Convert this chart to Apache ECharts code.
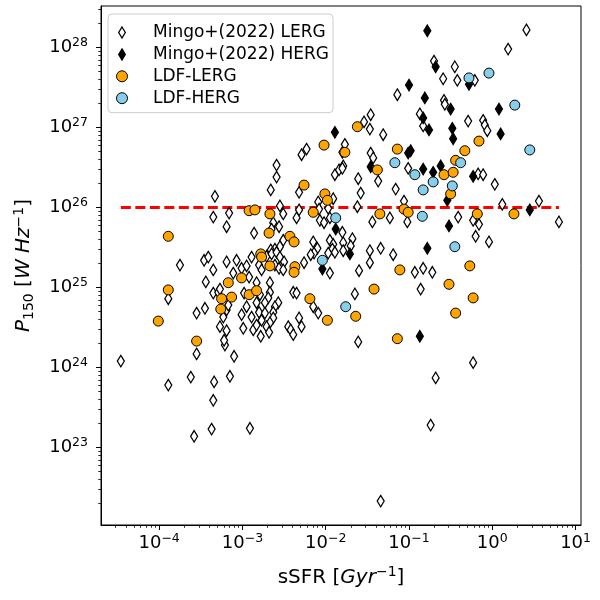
<!DOCTYPE html>
<html>
<head>
<meta charset="utf-8">
<script src="https://cdn.jsdelivr.net/npm/echarts@6/dist/echarts.min.js"></script>
<style>
html, body { margin: 0; padding: 0; background: #ffffff; }
#chart { width: 600px; height: 600px; }
</style>
</head>
<body>
<div id="chart"></div>
<script>
/**
 * data: [log10(sSFR / Gyr^-1), log10(P150 / W Hz^-1)]
 * */
var mingoLerg = [
	[0.41, 28.22], [0.19, 27.98], [-0.70, 27.83], [-0.45, 27.76], [-0.59, 27.61], [-0.42, 27.59], [-0.21, 27.59], [-1.14, 27.41], [-0.58, 27.34], [-0.57, 27.29],
	[-1.46, 27.16], [-1.54, 27.07], [-1.47, 26.98], [-0.87, 27.17], [-0.83, 27.02], [-0.29, 27.08], [-0.11, 27.09], [-0.09, 27.03], [-0.06, 26.96], [-1.31, 26.91],
	[-1.77, 26.79], [-1.80, 26.69], [-2.29, 26.66], [-2.23, 26.73], [-1.89, 26.41], [-1.84, 26.47], [-1.79, 26.52], [-2.59, 26.53], [-2.59, 26.38], [-1.46, 26.68],
	[-1.43, 26.62], [-1.80, 26.49], [-1.01, 26.49], [-0.17, 26.42], [-0.11, 26.41], [-1.61, 26.36], [-1.37, 26.33], [0.03, 26.29],
	[-1.16, 26.23], [-1.58, 26.18], [-1.06, 26.08], [-1.62, 26.01], [-1.44, 25.82], [-1.23, 25.87], [-1.02, 25.82], [-0.41, 25.88], [-0.23, 25.84], [-0.16, 25.79],
	[0.12, 26.04], [0.56, 26.08], [0.80, 25.82], [-0.20, 25.64], [-0.04, 25.57], [-1.79, 25.56], [-1.68, 25.61], [-1.79, 25.46], [-1.70, 25.52], [-1.47, 25.46],
	[-1.34, 25.49], [-1.19, 25.41], [-1.47, 25.31], [-1.60, 25.21], [-0.93, 25.19], [-0.83, 25.24], [-0.72, 25.19], [-0.86, 24.98], [-1.65, 24.92], [-1.61, 24.32],
	[-0.23, 24.06], [-0.68, 23.87], [-0.74, 23.28], [-1.34, 22.33], [-4.46, 24.08], [-3.55, 24.17], [-3.10, 24.14], [-3.89, 23.78], [-3.62, 23.88], [-3.34, 23.82],
	[-3.15, 23.89], [-3.35, 23.59], [-3.58, 23.14], [-3.37, 23.23], [-2.91, 23.24], [-3.21, 24.28],
	[-2.32, 26.19], [-2.66, 26.22], [-3.33, 26.14], [-2.09, 26.07], [-1.91, 26.11], [-3.35, 25.88], [-3.16, 25.93], [-3.19, 25.76], [-2.55, 26.02], [-2.51, 25.92],
	[-2.35, 25.87], [-2.32, 25.97], [-2.07, 25.84], [-2.02, 25.81], [-1.97, 25.99], [-1.95, 25.87], [-2.86, 25.68], [-3.75, 25.28], [-3.89, 24.86], [-3.55, 24.68],
	[-3.45, 24.74], [-3.46, 25.34], [-3.41, 25.38], [-3.35, 25.22], [-3.44, 25.07], [-3.19, 25.32], [-3.07, 25.34], [-3.11, 25.18], [-3.01, 25.24], [-2.95, 25.27],
	[-2.89, 25.38], [-2.92, 25.13], [-2.83, 25.06], [-3.35, 24.93], [-3.29, 24.94], [-3.27, 24.98], [-2.98, 24.93], [-3.19, 24.72], [-3.17, 24.78], [-3.23, 24.63],
	[-3.27, 24.51], [-3.19, 24.46], [-3.22, 24.34], [-3.01, 24.66], [-2.99, 24.49], [-2.95, 24.76], [-2.89, 24.63], [-2.87, 24.47], [-2.83, 24.53], [-2.83, 24.81],
	[-2.79, 24.91], [-2.80, 24.69], [-2.77, 24.59], [-2.78, 24.39], [-2.63, 25.81], [-2.65, 25.73], [-2.56, 25.76], [-2.51, 25.59], [-2.55, 25.51], [-2.61, 25.48],
	[-2.66, 25.47], [-2.15, 25.57], [-2.10, 25.49], [-2.14, 25.43], [-1.95, 25.59], [-1.91, 25.54], [-1.92, 25.48], [-1.89, 25.44], [-1.80, 25.69], [-2.71, 25.39],
	[-2.65, 25.42], [-2.59, 25.44], [-2.55, 25.38], [-2.50, 25.32], [-2.61, 25.28], [-2.56, 25.24], [-2.51, 25.22], [-2.26, 25.31], [-2.18, 25.41], [-1.97, 25.43],
	[-1.95, 25.18], [-2.67, 25.06], [-2.67, 24.94], [-2.69, 24.87], [-2.73, 24.81], [-2.39, 24.94], [-2.35, 24.93], [-2.57, 24.81], [-2.61, 24.76], [-2.63, 24.69],
	[-2.63, 24.62], [-2.67, 24.56], [-2.71, 24.51], [-2.68, 24.44], [-2.73, 24.68], [-2.15, 24.76], [-2.09, 24.68], [-2.32, 24.62], [-2.29, 24.51], [-2.45, 24.51],
	[-2.42, 24.47], [-2.39, 24.41], [-2.08, 25.98], [-2.80, 25.28], [-2.77, 25.22]
];
var mingoHerg = [
	[-0.78, 28.21], [-0.68, 27.76], [-0.28, 27.54], [-1.00, 27.53], [-0.81, 27.37], [-0.50, 27.23], [0.08, 27.23], [-0.83, 27.12], [-0.76, 26.97], [-0.48, 26.99],
	[-0.47, 26.86], [0.10, 26.92], [-1.89, 26.94], [-1.01, 26.68], [-0.98, 26.71], [-1.46, 26.51], [-0.83, 26.48], [-0.71, 26.44], [-0.62, 26.52], [-0.23, 26.39],
	[-0.54, 26.09], [-0.52, 25.77], [0.45, 25.97], [-0.78, 25.49], [-1.71, 25.42], [-1.88, 25.73], [-2.04, 25.23], [-0.87, 24.39]
];
var ldfLerg = [
	[-2.02, 26.78], [-1.77, 26.69], [-1.62, 27.01], [-2.26, 26.28], [-1.14, 26.73], [-0.33, 26.71], [-0.16, 26.83], [-1.38, 26.47], [-0.58, 26.41], [-0.47, 26.44],
	[-0.44, 26.59], [-0.50, 26.17], [-1.06, 25.98], [-1.01, 25.94], [-1.35, 25.92], [-0.18, 25.92], [0.26, 25.92], [-2.01, 26.17], [-1.98, 26.09], [-2.15, 25.94],
	[-2.92, 25.96], [-2.85, 25.97], [-2.67, 25.92], [-2.68, 25.68], [-2.43, 25.64], [-2.38, 25.57], [-3.89, 25.64], [-2.78, 25.42], [-2.77, 25.38], [-2.67, 25.27],
	[-2.37, 25.26], [-2.38, 25.19], [-3.17, 25.06], [-3.01, 25.12], [-2.92, 24.91], [-2.83, 24.96], [-3.25, 24.86], [-3.13, 24.88], [-3.26, 24.73], [-3.89, 24.97],
	[-4.01, 24.58], [-3.55, 24.33], [-2.19, 24.86], [-1.98, 24.59], [-1.11, 25.22], [-0.27, 25.27], [-1.42, 24.98], [-0.52, 25.04], [-0.23, 24.87], [-1.64, 24.64],
	[-0.44, 24.68], [-1.14, 24.36]
];
var ldfHerg = [
	[-0.28, 27.62], [-0.04, 27.68], [0.27, 27.28], [0.45, 26.72], [-1.17, 26.56], [-0.93, 26.41], [-0.71, 26.32], [-0.38, 26.56], [-0.48, 26.27], [-0.83, 26.22],
	[-0.84, 25.89], [-0.45, 25.51], [-1.88, 25.87], [-2.04, 25.34], [-1.76, 24.76]
];
var seriesNames = ['Mingo+(2022) LERG', 'Mingo+(2022) HERG', 'LDF-LERG', 'LDF-HERG'];
var xTickExp = [-4, -3, -2, -1, 0, 1];
var yTickExp = [23, 24, 25, 26, 27, 28];
var xLimExp = [-4.698, 1.065];
var yLimExp = [22.031, 28.519];
var pCut = 1e26;

/**
 * helpers
 * */
var diamond = 'path://M3,0L6,5L3,10L0,5Z';
var font = 'DejaVu Sans';

function toLinear(arr) {
	return arr.map(function(p) {
		return [Math.pow(10, p[0]), Math.pow(10, p[1])];
	});
}

//decade ticks
function majors(exps) {
	return exps.map(function(e) { return Math.pow(10, e); });
}

//2..9 x 10^n inside the limits
function minors(lim) {
	var out = [];
	for (var e = Math.floor(lim[0]); e <= Math.ceil(lim[1]); e++) {
		for (var m = 2; m <= 9; m++) {
			var l = e + Math.log10(m);
			if (l > lim[0] && l < lim[1]) out.push(m * Math.pow(10, e));
		}
	}
	return out;
}

function powLabel(v) {
	var e = Math.round(Math.log10(v));
	return '{b|10}{s|' + (e < 0 ? '\u2212' + (-e) : e) + '}';
}

var labelRich = {
	b: { fontFamily: font, fontSize: 18, lineHeight: 23, color: '#000' },
	s: { fontFamily: font, fontSize: 12.5, lineHeight: 13, verticalAlign: 'top', color: '#000' }
};

var allX = [].concat(mingoLerg, mingoHerg, ldfLerg, ldfHerg).map(function(p) { return p[0]; });
var cutLine = [[Math.pow(10, Math.min.apply(null, allX)), pCut], [Math.pow(10, Math.max.apply(null, allX)), pCut]];

function mainAxis(lim, exps, extra) {
	var ax = {
		type: 'log',
		logBase: 10,
		min: Math.pow(10, lim[0]),
		max: Math.pow(10, lim[1]),
		axisLine: { show: true, onZero: false, lineStyle: { color: '#000', width: 1 } },
		axisTick: { show: true, length: 5, customValues: majors(exps), lineStyle: { color: '#000', width: 1 } },
		axisLabel: { show: true, customValues: majors(exps), formatter: powLabel, rich: labelRich },
		splitLine: { show: false },
		minorTick: { show: false }
	};
	for (var k in extra) ax[k] = extra[k];
	return ax;
}

function minorAxis(lim, pos) {
	return {
		type: 'log',
		logBase: 10,
		position: pos,
		min: Math.pow(10, lim[0]),
		max: Math.pow(10, lim[1]),
		axisLine: { show: false },
		axisTick: { show: true, length: 2.8, customValues: minors(lim), lineStyle: { color: '#000', width: 0.8 } },
		axisLabel: { show: false },
		splitLine: { show: false }
	};
}

/**
 * option
 * */
var xMain = mainAxis(xLimExp, xTickExp, {
	position: 'bottom',
	name: 'sSFR [{i|Gyr}{p|\u22121}]',
	nameLocation: 'middle',
	nameGap: 40,
	nameTextStyle: {
		fontFamily: font, fontSize: 20, lineHeight: 26, color: '#000',
		rich: {
			i: { fontFamily: font, fontSize: 20, lineHeight: 26, fontStyle: 'italic', color: '#000' },
			p: { fontFamily: font, fontSize: 14, lineHeight: 14, verticalAlign: 'top', color: '#000' }
		}
	}
});
xMain.axisLabel.margin = 7;

var yMain = mainAxis(yLimExp, yTickExp, {
	position: 'left',
	name: '{i|P}{d|150} [{i|W Hz}{p|\u22121}]',
	nameLocation: 'middle',
	nameGap: 65,
	nameRotate: 90,
	nameTextStyle: {
		fontFamily: font, fontSize: 20, lineHeight: 24, color: '#000',
		rich: {
			i: { fontFamily: font, fontSize: 20, lineHeight: 24, fontStyle: 'italic', color: '#000' },
			d: { fontFamily: font, fontSize: 14, lineHeight: 13, verticalAlign: 'bottom', color: '#000' },
			p: { fontFamily: font, fontSize: 14, lineHeight: 13, verticalAlign: 'top', color: '#000' }
		}
	}
});
yMain.axisLabel.margin = 13;

var option = {
	animation: false,
	backgroundColor: '#ffffff',
	textStyle: { fontFamily: font },
	grid: {
		left: 101, top: 6, width: 480, height: 519,
		show: true, borderColor: '#000', borderWidth: 1, backgroundColor: 'transparent'
	},
	legend: {
		orient: 'vertical',
		left: 108,
		top: 14,
		//图标框加宽，文字往右挪
		padding: [10, 4, 6, 8],
		itemWidth: 52,
		itemHeight: 11,
		itemGap: 4.9,
		backgroundColor: 'rgba(255,255,255,0.8)',
		borderColor: '#cccccc',
		borderWidth: 1,
		borderRadius: 4,
		formatter: function(name) { return '{t|' + name + '}'; },
		textStyle: {
			fontFamily: font, fontSize: 17, color: '#000',
			rich: { t: { fontFamily: font, fontSize: 17, lineHeight: 20, color: '#000' } }
		},
		data: [
			{ name: seriesNames[0], icon: diamond, itemStyle: { color: '#ffffff', borderColor: '#000', borderWidth: 1.3 } },
			{ name: seriesNames[1], icon: diamond, itemStyle: { color: '#000000', borderColor: '#000', borderWidth: 1.3 } },
			{ name: seriesNames[2], icon: 'circle', itemStyle: { color: '#ffa500', borderColor: '#000', borderWidth: 1 } },
			{ name: seriesNames[3], icon: 'circle', itemStyle: { color: '#87ceeb', borderColor: '#000', borderWidth: 1 } }
		]
	},
	xAxis: [xMain, minorAxis(xLimExp, 'bottom')],
	yAxis: [yMain, minorAxis(yLimExp, 'left')],
	series: [{
		name: 'cut',
		type: 'line',
		data: cutLine,
		symbol: 'none',
		silent: true,
		z: 1,
		lineStyle: { color: '#ff0000', width: 2.8, type: [10, 4.5] }
	}, {
		name: seriesNames[0],
		type: 'scatter',
		data: toLinear(mingoLerg),
		symbol: diamond,
		symbolSize: [7, 11.5],
		z: 2,
		itemStyle: { color: '#ffffff', borderColor: '#000', borderWidth: 1.3, opacity: 1 }
	}, {
		name: seriesNames[1],
		type: 'scatter',
		data: toLinear(mingoHerg),
		symbol: diamond,
		symbolSize: [7, 11.5],
		z: 2,
		itemStyle: { color: '#000000', borderColor: '#000', borderWidth: 1.3, opacity: 1 }
	}, {
		name: seriesNames[2],
		type: 'scatter',
		data: toLinear(ldfLerg),
		symbol: 'circle',
		symbolSize: 10,
		z: 3,
		itemStyle: { color: '#ffa500', borderColor: '#000', borderWidth: 1, opacity: 1 }
	}, {
		name: seriesNames[3],
		type: 'scatter',
		data: toLinear(ldfHerg),
		symbol: 'circle',
		symbolSize: 10,
		z: 3,
		itemStyle: { color: '#87ceeb', borderColor: '#000', borderWidth: 1, opacity: 1 }
	}]
};

/**
 * 执行
 * */
var myChart = echarts.init(document.getElementById('chart'));
myChart.setOption(option);
</script>
</body>
</html>
